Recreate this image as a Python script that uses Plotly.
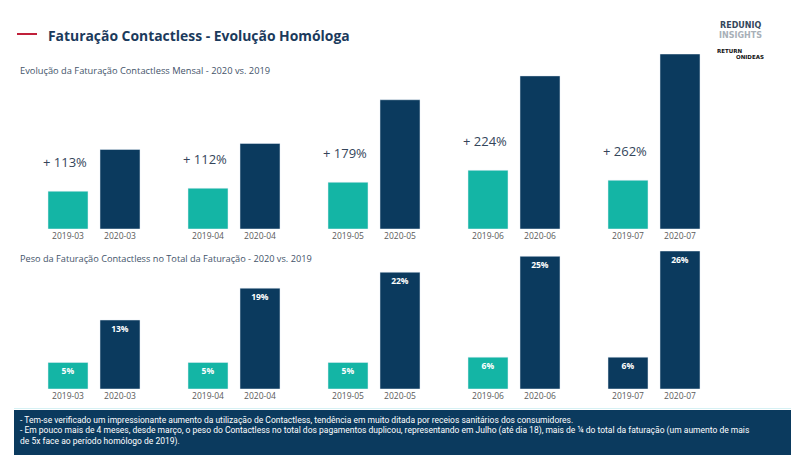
import plotly.graph_objects as go

# ---------------- data ----------------
meses_2019 = ["2019-03", "2019-04", "2019-05", "2019-06", "2019-07"]
meses_2020 = ["2020-03", "2020-04", "2020-05", "2020-06", "2020-07"]
faturacao_2019 = [38, 41, 47, 59, 49]          # relative index
faturacao_2020 = [80, 86, 130, 154, 176]
crescimento = [113, 112, 179, 224, 262]        # % growth labels
peso_2019 = [5, 5, 5, 6, 6]                    # % weight of contactless in total
peso_2020 = [13, 19, 22, 25, 26]

notas = [
    "- Tem-se verificado um impressionante aumento da utilização de Contactless, tendência em muito ditada por receios sanitários dos consumidores.",
    "- Em pouco mais de 4 meses, desde março, o peso do Contactless no total dos pagamentos duplicou, representando em Julho (até dia 18), mais de ¼ do total da faturação (um aumento de mais",
    "de 5x face ao período homólogo de 2019).",
]

# ---------------- style ----------------
W, H = 810, 455
TEAL = "#14b5a5"
NAVY = "#0b3a5e"
TXT = "#34455a"
FONT = "Open Sans"

PAIR_PX, FIRST_PX, HALF_PX, BAR_PX = 140, 94, 26, 40
n = len(meses_2019)
x19 = [i - HALF_PX / PAIR_PX for i in range(n)]
x20 = [i + HALF_PX / PAIR_PX for i in range(n)]
xrange_ = [-FIRST_PX / PAIR_PX, (W - FIRST_PX) / PAIR_PX]
bw = BAR_PX / PAIR_PX

def py(px):  # pixel from top -> paper y
    return 1 - px / H

def pxx(px):
    return px / W

fig = go.Figure()

# top chart
fig.add_trace(go.Bar(x=x19, y=faturacao_2019, width=bw, marker_color=TEAL,
                     xaxis="x", yaxis="y", hoverinfo="skip"))
fig.add_trace(go.Bar(x=x20, y=faturacao_2020, width=bw, marker_color=NAVY,
                     xaxis="x", yaxis="y", hoverinfo="skip"))

# bottom chart (2019-07 bar appears navy in the source)
cores_peso_2019 = [TEAL] * n
cores_peso_2019[-1] = NAVY
txtfont = dict(family=FONT, size=8.5, color="white", weight=700)
fig.add_trace(go.Bar(x=x19, y=peso_2019, width=bw, marker_color=cores_peso_2019,
                     text=[f"{v}%" for v in peso_2019], textposition="inside",
                     insidetextanchor="end", textfont=txtfont, textangle=0,
                     xaxis="x2", yaxis="y2", hoverinfo="skip"))
fig.add_trace(go.Bar(x=x20, y=peso_2020, width=bw, marker_color=NAVY,
                     text=[f"{v}%" for v in peso_2020], textposition="inside",
                     insidetextanchor="end", textfont=txtfont, textangle=0,
                     xaxis="x2", yaxis="y2", hoverinfo="skip"))

tickfont = dict(family=FONT, size=8.5, color="#5a5a5a")
tickvals = [v for pair in zip(x19, x20) for v in pair]
ticktext = [v for pair in zip(meses_2019, meses_2020) for v in pair]

fig.update_layout(
    width=W, height=H, margin=dict(l=0, r=0, t=0, b=0),
    paper_bgcolor="white", plot_bgcolor="white", showlegend=False,
    barmode="overlay",
    xaxis=dict(domain=[0, 1], range=xrange_, anchor="y", tickvals=tickvals,
               ticktext=ticktext, tickfont=tickfont, showgrid=False,
               zeroline=False, showline=False, ticks="", fixedrange=True),
    yaxis=dict(domain=[py(229), py(54)], range=[0, 176], visible=False,
               fixedrange=True),
    xaxis2=dict(domain=[0, 1], range=xrange_, anchor="y2", tickvals=tickvals,
                ticktext=ticktext, tickfont=tickfont, showgrid=False,
                zeroline=False, showline=False, ticks="", fixedrange=True),
    yaxis2=dict(domain=[py(389), py(251)], range=[0, 26], visible=False,
                fixedrange=True),
    font=dict(family=FONT),
)

ann = []
# growth labels
for xi, v, g in zip(x19, faturacao_2019, crescimento):
    ann.append(dict(x=xi, y=v, xref="x", yref="y", text=f"+ {g}%",
                    showarrow=False, yanchor="middle", yshift=29, xshift=-3,
                    font=dict(family=FONT, size=13, color=TXT)))

# titles
ann.append(dict(x=pxx(46), y=py(36), xref="paper", yref="paper",
                text="<b>Faturação Contactless - Evolução Homóloga</b>",
                showarrow=False, xanchor="left", yanchor="middle",
                font=dict(family=FONT, size=13.9, color="#1b3a5c")))
ann.append(dict(x=pxx(18), y=py(70), xref="paper", yref="paper",
                text="Evolução da Faturação Contactless Mensal - 2020 vs. 2019",
                showarrow=False, xanchor="left", yanchor="middle",
                font=dict(family=FONT, size=9.3, color="#44546a")))
ann.append(dict(x=pxx(18), y=py(258), xref="paper", yref="paper",
                text="Peso da Faturação Contactless no Total da Faturação - 2020 vs. 2019",
                showarrow=False, xanchor="left", yanchor="middle",
                font=dict(family=FONT, size=9.2, color="#44546a")))

# logo text
ann.append(dict(x=pxx(740), y=py(25.5), xref="paper", yref="paper",
                text="<b>REDUNIQ</b>", showarrow=False, xanchor="center",
                yanchor="middle", font=dict(family="DejaVu Sans", size=8, color="#34475c")))
ann.append(dict(x=pxx(740), y=py(36), xref="paper", yref="paper",
                text="<b>INSIGHTS</b>", showarrow=False, xanchor="center",
                yanchor="middle", font=dict(family="DejaVu Sans", size=8, color="#a8b0b8")))
ann.append(dict(x=pxx(729), y=py(51), xref="paper", yref="paper",
                text="<b>RETURN</b>", showarrow=False, xanchor="center",
                yanchor="middle", font=dict(family="DejaVu Sans", size=5.5, color="#111")))
ann.append(dict(x=pxx(750), y=py(56.5), xref="paper", yref="paper",
                text="<b>ONIDEAS</b>", showarrow=False, xanchor="center",
                yanchor="middle", font=dict(family="DejaVu Sans", size=5.5, color="#111")))

# notes box text
for k, linha in enumerate(notas):
    ann.append(dict(x=pxx(18), y=py(420 + 10.5 * k), xref="paper", yref="paper",
                    text=linha, showarrow=False, xanchor="left", yanchor="middle",
                    font=dict(family="Roboto", size=8.5, color="white")))

fig.update_layout(annotations=ann)

fig.update_layout(shapes=[
    dict(type="line", xref="paper", yref="paper", x0=pxx(17), x1=pxx(37),
         y0=py(34), y1=py(34), line=dict(color="#c0203a", width=2)),
    dict(type="line", xref="paper", yref="paper", x0=pxx(14), x1=pxx(791),
         y0=py(408.5), y1=py(408.5), line=dict(color="#d6f1f4", width=1)),
    dict(type="rect", xref="paper", yref="paper", x0=pxx(14), x1=pxx(791),
         y0=py(455), y1=py(410), fillcolor=NAVY, line=dict(width=0), layer="below"),
])

fig.write_html("out.html")
